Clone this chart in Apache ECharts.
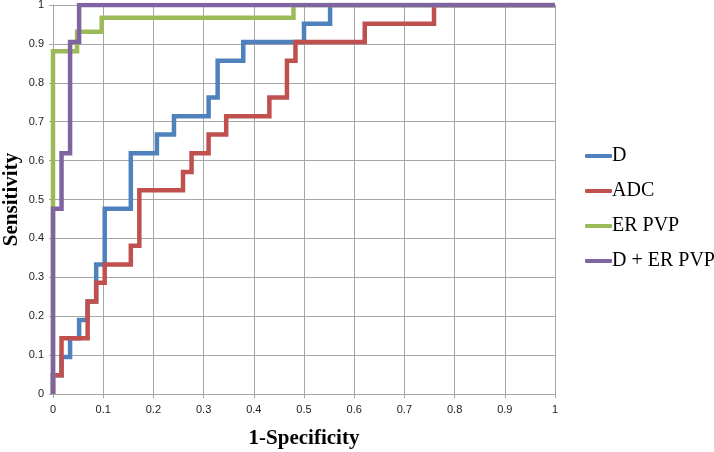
<!DOCTYPE html>
<html>
<head>
<meta charset="utf-8">
<script src="https://cdn.jsdelivr.net/npm/echarts@6/dist/echarts.min.js"></script>
<style>html,body{margin:0;padding:0;background:#fff}#c{width:714px;height:452px}</style>
</head>
<body>
<div id="c"></div>
<script>
const seriesNames = ['D', 'ADC', 'ER PVP', 'D + ER PVP'];
const seriesColors = ['#4F81BD', '#C0504D', '#9BBB59', '#8064A2'];

// ROC corner points (1-Specificity, Sensitivity)
const dFpr = [0, 0, 0.017, 0.017, 0.034, 0.034, 0.052, 0.052, 0.069, 0.069, 0.086, 0.086, 0.103, 0.103, 0.155, 0.155, 0.207, 0.207, 0.241, 0.241, 0.310, 0.310, 0.328, 0.328, 0.379, 0.379, 0.500, 0.500, 0.552, 0.552, 1];
const dTpr = [0, 0.048, 0.048, 0.095, 0.095, 0.143, 0.143, 0.190, 0.190, 0.238, 0.238, 0.333, 0.333, 0.476, 0.476, 0.619, 0.619, 0.667, 0.667, 0.714, 0.714, 0.762, 0.762, 0.857, 0.857, 0.905, 0.905, 0.952, 0.952, 1, 1];

const adcFpr = [0, 0, 0.017, 0.017, 0.069, 0.069, 0.086, 0.086, 0.103, 0.103, 0.155, 0.155, 0.172, 0.172, 0.259, 0.259, 0.276, 0.276, 0.310, 0.310, 0.345, 0.345, 0.431, 0.431, 0.466, 0.466, 0.483, 0.483, 0.621, 0.621, 0.759, 0.759, 1];
const adcTpr = [0, 0.048, 0.048, 0.143, 0.143, 0.238, 0.238, 0.286, 0.286, 0.333, 0.333, 0.381, 0.381, 0.524, 0.524, 0.571, 0.571, 0.619, 0.619, 0.667, 0.667, 0.714, 0.714, 0.762, 0.762, 0.857, 0.857, 0.905, 0.905, 0.952, 0.952, 1, 1];

const erFpr = [0, 0, 0.048, 0.048, 0.097, 0.097, 0.479, 0.479, 1];
const erTpr = [0, 0.881, 0.881, 0.931, 0.931, 0.967, 0.967, 1, 1];

const comboFpr = [0, 0, 0.017, 0.017, 0.034, 0.034, 0.052, 0.052, 1];
const comboTpr = [0, 0.476, 0.476, 0.619, 0.619, 0.905, 0.905, 1, 1];

const allFpr = [dFpr, adcFpr, erFpr, comboFpr];
const allTpr = [dTpr, adcTpr, erTpr, comboTpr];

const gridColor = '#a6a6a6';
const labelFont = { fontFamily: '"Liberation Sans", Arial, sans-serif', fontSize: 11, color: '#222' };
const titleFont = { fontFamily: '"Liberation Serif", "Times New Roman", serif', fontSize: 21, fontWeight: 'bold', color: '#000' };

const chart = echarts.init(document.getElementById('c'), null, { renderer: 'canvas' });
chart.setOption({
  animation: false,
  backgroundColor: '#fff',
  grid: { left: 53, right: 159, top: 5, bottom: 58, containLabel: false, outerBoundsMode: 'none' },
  legend: {
    orient: 'vertical',
    left: 580,
    top: 141,
    itemWidth: 27,
    itemHeight: 4,
    itemGap: 15,
    icon: 'roundRect',
    textStyle: { fontFamily: '"Liberation Serif", "Times New Roman", serif', fontSize: 20, color: '#000', padding: [0, 0, 0, -5] },
    data: seriesNames
  },
  xAxis: {
    type: 'value', min: 0, max: 1, interval: 0.1,
    name: '1-Specificity', nameLocation: 'middle', nameGap: 34, nameMoveOverlap: false,
    nameTextStyle: titleFont,
    axisLine: { lineStyle: { color: gridColor, width: 1 } },
    axisTick: { show: true, length: 4, lineStyle: { color: gridColor } },
    axisLabel: Object.assign({ margin: 10 }, labelFont),
    splitLine: { show: true, lineStyle: { color: gridColor, width: 1 } }
  },
  yAxis: {
    type: 'value', min: 0, max: 1, interval: 0.1,
    name: 'Sensitivity', nameLocation: 'middle', nameGap: 31, nameMoveOverlap: false,
    nameTextStyle: titleFont,
    axisLine: { show: true, lineStyle: { color: gridColor, width: 1 } },
    axisTick: { show: true, length: 4, lineStyle: { color: gridColor } },
    axisLabel: Object.assign({ margin: 9 }, labelFont),
    splitLine: { show: true, lineStyle: { color: gridColor, width: 1 } }
  },
  series: seriesNames.map((n, i) => ({
    name: n,
    type: 'line',
    showSymbol: false,
    symbol: 'none',
    color: seriesColors[i],
    lineStyle: { color: seriesColors[i], width: 4.5, join: 'miter', cap: 'butt' },
    data: allFpr[i].map((x, j) => [x, allTpr[i][j]])
  }))
});
</script>
</body>
</html>
